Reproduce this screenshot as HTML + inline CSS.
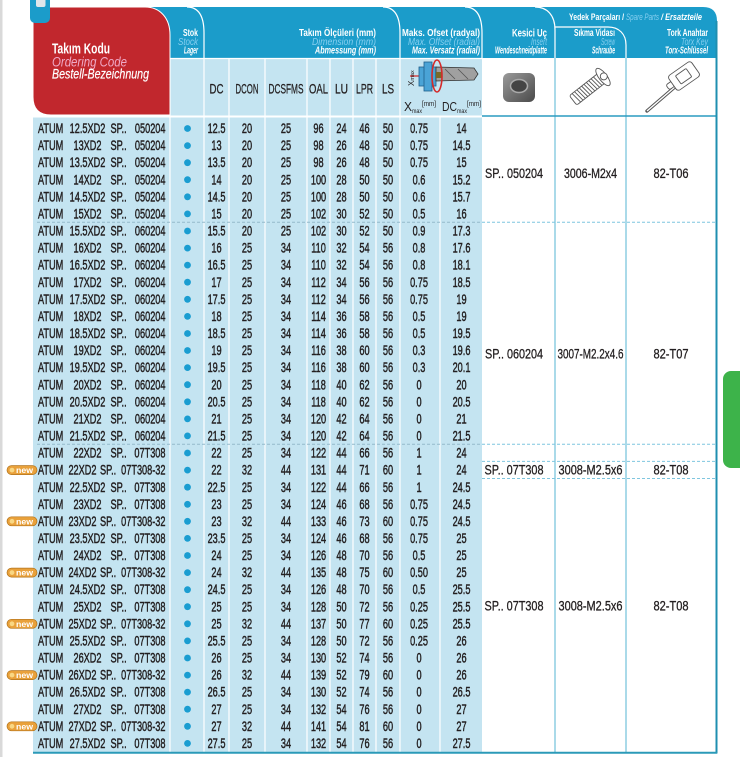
<!DOCTYPE html>
<html><head><meta charset="utf-8"><style>
html,body{margin:0;padding:0;background:#fff}
svg{display:block}
text{font-family:"Liberation Sans",Arial,sans-serif}
</style></head><body>
<svg width="740" height="757" viewBox="0 0 740 757" xmlns="http://www.w3.org/2000/svg">
<defs>
<linearGradient id="ig" x1="0" y1="0" x2="1" y2="1"><stop offset="0" stop-color="#9a9a9a"/><stop offset="1" stop-color="#4a4a4a"/></linearGradient>
</defs>
<rect width="740" height="757" fill="#fff"/>
<rect x="0" y="0" width="2.5" height="757" fill="#d9d9d9"/>
<rect x="723" y="371" width="30" height="97" rx="8" fill="#3db34a"/>

<!-- header blue band -->
<path d="M150,7 H703 Q717,7 717,21 V58 H150 Z" fill="#1b9cca"/>
<g fill="none" stroke="#fff" stroke-width="1.2">
<path d="M187,7 C198,7 204,15 204,33 V58"/>
<path d="M383,7 C394,7 400,15 400,33 V58"/>
<path d="M465,7 C476,7 482,15 482,33 V58"/>
<path d="M535,7 C547,7 555,15 555,30 V58"/>
<path d="M555,27 H608 C619,27 626,34 626,45 V58"/>
</g>
<!-- header row 2 -->
<rect x="170" y="58" width="312" height="58" fill="#c4e4f1"/>
<rect x="482" y="58" width="235" height="58" fill="#fff"/>
<line x1="150" y1="58.5" x2="482" y2="58.5" stroke="#fff" stroke-width="1.2"/>

<!-- data background -->
<rect x="33" y="116" width="449" height="636.5" fill="#c4e4f1"/>
<g stroke="#fff" stroke-width="1.2">
<line x1="170" y1="58" x2="170" y2="752"/>
<line x1="204" y1="58" x2="204" y2="752"/>
<line x1="229" y1="58" x2="229" y2="752"/>
<line x1="265" y1="58" x2="265" y2="752"/>
<line x1="307" y1="58" x2="307" y2="752"/>
<line x1="330" y1="58" x2="330" y2="752"/>
<line x1="353" y1="58" x2="353" y2="752"/>
<line x1="376" y1="58" x2="376" y2="752"/>
<line x1="400" y1="58" x2="400" y2="752"/>
<line x1="440" y1="116" x2="440" y2="752"/>
<line x1="33" y1="116.5" x2="482" y2="116.5" stroke-width="2"/>
</g>
<g stroke="#8dcde2" stroke-width="1.5">
<line x1="555" y1="58" x2="555" y2="752"/>
<line x1="626" y1="58" x2="626" y2="752"/>
</g>
<line x1="482" y1="116" x2="717" y2="116" stroke="#2a9cc0" stroke-width="1.6"/>
<line x1="716.5" y1="21" x2="716.5" y2="753.5" stroke="#1f8fb0" stroke-width="2"/>
<line x1="33" y1="752.8" x2="717" y2="752.8" stroke="#2b9ab8" stroke-width="2"/>

<!-- dashed separators -->
<g stroke-dasharray="3 2" stroke-width="1">
<line x1="37" y1="222.3" x2="482" y2="222.3" stroke="#94b9cb"/>
<line x1="37" y1="444.3" x2="482" y2="444.3" stroke="#94b9cb"/>
<line x1="482" y1="222.3" x2="716" y2="222.3" stroke="#7fc6df"/>
<line x1="482" y1="444.3" x2="716" y2="444.3" stroke="#7fc6df"/>
<line x1="482" y1="461.4" x2="716" y2="461.4" stroke="#7fc6df"/>
<line x1="482" y1="478.5" x2="716" y2="478.5" stroke="#7fc6df"/>
</g>

<!-- red box -->
<path d="M33,7 H145 C160,7 170,18 170,35 V115 H51 Q33,115 33,97 Z" fill="#c1272d" stroke="#fff" stroke-width="1"/>
<!-- icon -->
<rect x="30" y="-5" width="20" height="28" rx="5" fill="#1b9cca"/>
<rect x="36" y="-2" width="9.5" height="9" rx="2" fill="#dfe6ea"/>

<text x="52" y="53.3" font-size="14.5" font-weight="bold" fill="#fff" textLength="58" lengthAdjust="spacingAndGlyphs">Takım Kodu</text>
<text x="52" y="66.5" font-size="14" font-style="italic" fill="#efa9c6" textLength="75" lengthAdjust="spacingAndGlyphs">Ordering Code</text>
<text x="52" y="78.5" font-size="14" font-style="italic" fill="#fff" stroke="#fff" stroke-width="0.2" textLength="97" lengthAdjust="spacingAndGlyphs">Bestell-Bezeichnung</text>

<!-- header row1 texts -->
<g font-size="10" text-anchor="end">
<text x="198" y="36" font-weight="bold" fill="#fff" textLength="15" lengthAdjust="spacingAndGlyphs">Stok</text>
<text x="198" y="45" font-style="italic" fill="#86cff0" textLength="20" lengthAdjust="spacingAndGlyphs">Stock</text>
<text x="198" y="53.5" font-weight="bold" font-style="italic" fill="#fff" textLength="14" lengthAdjust="spacingAndGlyphs">Lager</text>

<text x="376" y="36" font-weight="bold" fill="#fff" textLength="77" lengthAdjust="spacingAndGlyphs">Takım Ölçüleri (mm)</text>
<text x="376" y="45" font-style="italic" fill="#86cff0" textLength="64" lengthAdjust="spacingAndGlyphs">Dimension (mm)</text>
<text x="376" y="53.5" font-weight="bold" font-style="italic" fill="#fff" textLength="61" lengthAdjust="spacingAndGlyphs">Abmessung (mm)</text>

<text x="480" y="36" font-weight="bold" fill="#fff" textLength="78" lengthAdjust="spacingAndGlyphs">Maks. Ofset (radyal)</text>
<text x="480" y="45" font-style="italic" fill="#86cff0" textLength="72" lengthAdjust="spacingAndGlyphs">Max. Offset (radial)</text>
<text x="480" y="53.5" font-weight="bold" font-style="italic" fill="#fff" textLength="68" lengthAdjust="spacingAndGlyphs">Max. Versatz (radial)</text>

<text x="547" y="36.5" font-size="11" font-weight="bold" fill="#fff" textLength="35" lengthAdjust="spacingAndGlyphs">Kesici Uç</text>
<text x="547" y="45" font-style="italic" fill="#86cff0" textLength="16" lengthAdjust="spacingAndGlyphs">Insert</text>
<text x="547" y="53.5" font-weight="bold" font-style="italic" fill="#fff" textLength="52" lengthAdjust="spacingAndGlyphs">Wendeschneidplatte</text>

<text x="615" y="36" font-weight="bold" fill="#fff" textLength="41" lengthAdjust="spacingAndGlyphs">Sıkma Vidası</text>
<text x="615" y="45" font-style="italic" fill="#86cff0" textLength="14" lengthAdjust="spacingAndGlyphs">Screw</text>
<text x="615" y="53.5" font-weight="bold" font-style="italic" fill="#fff" textLength="23" lengthAdjust="spacingAndGlyphs">Schraube</text>

<text x="708" y="36" font-weight="bold" fill="#fff" textLength="41" lengthAdjust="spacingAndGlyphs">Tork Anahtar</text>
<text x="708" y="45" font-style="italic" fill="#86cff0" textLength="27" lengthAdjust="spacingAndGlyphs">Torx Key</text>
<text x="708" y="53.5" font-weight="bold" font-style="italic" fill="#fff" textLength="43" lengthAdjust="spacingAndGlyphs">Torx-Schlüssel</text>
</g>
<g font-size="9.5">
<text x="569" y="20" font-weight="bold" fill="#fff" textLength="55" lengthAdjust="spacingAndGlyphs">Yedek Parçaları /</text>
<text x="626" y="20" font-style="italic" fill="#86cff0" textLength="33" lengthAdjust="spacingAndGlyphs">Spare Parts</text>
<text x="661" y="20" font-weight="bold" font-style="italic" fill="#fff" textLength="41" lengthAdjust="spacingAndGlyphs">/ Ersatzteile</text>
</g>

<!-- header row2 labels -->
<g font-size="14" fill="#231f20" stroke="#231f20" stroke-width="0.3" text-anchor="middle">
<text x="216.5" y="93.3" textLength="14" lengthAdjust="spacingAndGlyphs">DC</text>
<text x="247" y="93.3" textLength="23" lengthAdjust="spacingAndGlyphs">DCON</text>
<text x="286" y="93.3" textLength="35" lengthAdjust="spacingAndGlyphs">DCSFMS</text>
<text x="318.5" y="93.3" textLength="19" lengthAdjust="spacingAndGlyphs">OAL</text>
<text x="341.5" y="93.3" textLength="13" lengthAdjust="spacingAndGlyphs">LU</text>
<text x="364.5" y="93.3" textLength="17" lengthAdjust="spacingAndGlyphs">LPR</text>
<text x="388" y="93.3" textLength="12" lengthAdjust="spacingAndGlyphs">LS</text>
</g>
<!-- Xmax/DCmax labels -->
<g fill="#231f20">
<text x="404" y="111" font-size="13" textLength="8" lengthAdjust="spacingAndGlyphs">X</text>
<text x="412" y="113" font-size="6.5" textLength="10" lengthAdjust="spacingAndGlyphs">max</text>
<text x="422" y="106" font-size="7" textLength="14" lengthAdjust="spacingAndGlyphs">[mm]</text>
<text x="442" y="111" font-size="13" textLength="15" lengthAdjust="spacingAndGlyphs">DC</text>
<text x="457" y="113" font-size="6.5" textLength="10" lengthAdjust="spacingAndGlyphs">max</text>
<text x="467" y="106" font-size="7" textLength="14" lengthAdjust="spacingAndGlyphs">[mm]</text>
</g>
<!-- diagram -->
<g>
<line x1="410" y1="76" x2="436" y2="76" stroke="#d42a2a" stroke-width="1.2"/>
<rect x="419" y="67" width="17" height="19" fill="#4aa3d6" stroke="#1d5f8c" stroke-width=".8"/>
<rect x="424" y="62" width="8" height="29" fill="#4aa3d6" stroke="#1d5f8c" stroke-width=".8"/>
<path d="M436,67 L474,68 L478,74 L474,80 L436,81 Z" fill="#a0a0a0" stroke="#333" stroke-width=".8"/>
<path d="M445,69 L455,79 M458,69 L468,79" stroke="#555" stroke-width=".8" fill="none"/>
<rect x="436" y="72" width="6" height="6" fill="#7a6a2a"/>
<ellipse cx="437" cy="76" rx="5" ry="16" fill="none" stroke="#d42a2a" stroke-width="1.6"/>
<text transform="translate(414,86) rotate(-90)" font-size="8" fill="#231f20">X<tspan font-size="5.5">max</tspan></text>
</g>
<!-- insert image -->
<rect x="503" y="73" width="32" height="29" rx="6" fill="url(#ig)"/>
<ellipse cx="519" cy="86" rx="8.5" ry="6.5" fill="#444" stroke="#aaa" stroke-width="1.5"/>
<!-- screw -->
<g transform="translate(603,77) rotate(142)" fill="#fff" stroke="#555" stroke-width="0.9">
<rect x="2" y="-6" width="36" height="12" rx="2"/>
<path d="M6,-6 L7.5,6 M9,-6 L10.5,6 M12,-6 L13.5,6 M15,-6 L16.5,6 M18,-6 L19.5,6 M21,-6 L22.5,6 M24,-6 L25.5,6 M27,-6 L28.5,6 M30,-6 L31.5,6 M33,-6 L34.5,6" fill="none"/>
<ellipse cx="0" cy="0" rx="4" ry="10.5"/>
<circle cx="-1" cy="0" r="3.5"/>
</g>
<!-- key -->
<line x1="676" y1="86" x2="647" y2="111" stroke="#555" stroke-width="3.4" stroke-linecap="round"/>
<line x1="676" y1="86" x2="647" y2="111" stroke="#fff" stroke-width="1.4"/>
<g transform="translate(684,76) rotate(-35)" fill="#fff" stroke="#555" stroke-width="0.9">
<rect x="-20" y="-3" width="7" height="6" rx="2"/>
<rect x="-14" y="-9" width="28" height="18" rx="3"/>
<rect x="-7" y="-5" width="13" height="10" rx="1"/>
</g>

<!-- stock dots -->
<g fill="#1a9dd1">
<circle cx="187.5" cy="128.5" r="3.4"/><circle cx="187.5" cy="145.6" r="3.4"/><circle cx="187.5" cy="162.7" r="3.4"/><circle cx="187.5" cy="179.7" r="3.4"/><circle cx="187.5" cy="196.8" r="3.4"/><circle cx="187.5" cy="213.9" r="3.4"/><circle cx="187.5" cy="231.0" r="3.4"/><circle cx="187.5" cy="248.1" r="3.4"/><circle cx="187.5" cy="265.1" r="3.4"/><circle cx="187.5" cy="282.2" r="3.4"/><circle cx="187.5" cy="299.3" r="3.4"/><circle cx="187.5" cy="316.4" r="3.4"/><circle cx="187.5" cy="333.5" r="3.4"/><circle cx="187.5" cy="350.5" r="3.4"/><circle cx="187.5" cy="367.6" r="3.4"/><circle cx="187.5" cy="384.7" r="3.4"/><circle cx="187.5" cy="401.8" r="3.4"/><circle cx="187.5" cy="418.9" r="3.4"/><circle cx="187.5" cy="435.9" r="3.4"/><circle cx="187.5" cy="453.0" r="3.4"/><circle cx="187.5" cy="470.1" r="3.4"/><circle cx="187.5" cy="487.2" r="3.4"/><circle cx="187.5" cy="504.3" r="3.4"/><circle cx="187.5" cy="521.3" r="3.4"/><circle cx="187.5" cy="538.4" r="3.4"/><circle cx="187.5" cy="555.5" r="3.4"/><circle cx="187.5" cy="572.6" r="3.4"/><circle cx="187.5" cy="589.7" r="3.4"/><circle cx="187.5" cy="606.7" r="3.4"/><circle cx="187.5" cy="623.8" r="3.4"/><circle cx="187.5" cy="640.9" r="3.4"/><circle cx="187.5" cy="658.0" r="3.4"/><circle cx="187.5" cy="675.1" r="3.4"/><circle cx="187.5" cy="692.1" r="3.4"/><circle cx="187.5" cy="709.2" r="3.4"/><circle cx="187.5" cy="726.3" r="3.4"/><circle cx="187.5" cy="743.4" r="3.4"/>
</g>

<!-- new badges -->
<g font-size="8.5" font-weight="bold">
<g transform="translate(0,470.1)"><rect x="7" y="-4.5" width="30" height="9" rx="4.5" fill="#e9a13b" stroke="#b3741c" stroke-width=".7"/><circle cx="12" cy="0" r="2.4" fill="#f9d783"/><text x="16" y="3" fill="#fff" textLength="17" lengthAdjust="spacingAndGlyphs">new</text></g>
<g transform="translate(0,521.3)"><rect x="7" y="-4.5" width="30" height="9" rx="4.5" fill="#e9a13b" stroke="#b3741c" stroke-width=".7"/><circle cx="12" cy="0" r="2.4" fill="#f9d783"/><text x="16" y="3" fill="#fff" textLength="17" lengthAdjust="spacingAndGlyphs">new</text></g>
<g transform="translate(0,572.6)"><rect x="7" y="-4.5" width="30" height="9" rx="4.5" fill="#e9a13b" stroke="#b3741c" stroke-width=".7"/><circle cx="12" cy="0" r="2.4" fill="#f9d783"/><text x="16" y="3" fill="#fff" textLength="17" lengthAdjust="spacingAndGlyphs">new</text></g>
<g transform="translate(0,623.8)"><rect x="7" y="-4.5" width="30" height="9" rx="4.5" fill="#e9a13b" stroke="#b3741c" stroke-width=".7"/><circle cx="12" cy="0" r="2.4" fill="#f9d783"/><text x="16" y="3" fill="#fff" textLength="17" lengthAdjust="spacingAndGlyphs">new</text></g>
<g transform="translate(0,675.1)"><rect x="7" y="-4.5" width="30" height="9" rx="4.5" fill="#e9a13b" stroke="#b3741c" stroke-width=".7"/><circle cx="12" cy="0" r="2.4" fill="#f9d783"/><text x="16" y="3" fill="#fff" textLength="17" lengthAdjust="spacingAndGlyphs">new</text></g>
<g transform="translate(0,726.3)"><rect x="7" y="-4.5" width="30" height="9" rx="4.5" fill="#e9a13b" stroke="#b3741c" stroke-width=".7"/><circle cx="12" cy="0" r="2.4" fill="#f9d783"/><text x="16" y="3" fill="#fff" textLength="17" lengthAdjust="spacingAndGlyphs">new</text></g>
</g>

<!-- data text -->
<g font-size="13.5" fill="#231f20" stroke="#231f20" stroke-width="0.45">
<!-- ATUM -->
<g transform="translate(38,0) scale(0.68,1)">
<text y="133.1"><tspan x="0">ATUM</tspan><tspan x="0" dy="17.08">ATUM</tspan><tspan x="0" dy="17.08">ATUM</tspan><tspan x="0" dy="17.08">ATUM</tspan><tspan x="0" dy="17.08">ATUM</tspan><tspan x="0" dy="17.08">ATUM</tspan><tspan x="0" dy="17.08">ATUM</tspan><tspan x="0" dy="17.08">ATUM</tspan><tspan x="0" dy="17.08">ATUM</tspan><tspan x="0" dy="17.08">ATUM</tspan><tspan x="0" dy="17.08">ATUM</tspan><tspan x="0" dy="17.08">ATUM</tspan><tspan x="0" dy="17.08">ATUM</tspan><tspan x="0" dy="17.08">ATUM</tspan><tspan x="0" dy="17.08">ATUM</tspan><tspan x="0" dy="17.08">ATUM</tspan><tspan x="0" dy="17.08">ATUM</tspan><tspan x="0" dy="17.08">ATUM</tspan><tspan x="0" dy="17.08">ATUM</tspan><tspan x="0" dy="17.08">ATUM</tspan><tspan x="0" dy="17.08">ATUM</tspan><tspan x="0" dy="17.08">ATUM</tspan><tspan x="0" dy="17.08">ATUM</tspan><tspan x="0" dy="17.08">ATUM</tspan><tspan x="0" dy="17.08">ATUM</tspan><tspan x="0" dy="17.08">ATUM</tspan><tspan x="0" dy="17.08">ATUM</tspan><tspan x="0" dy="17.08">ATUM</tspan><tspan x="0" dy="17.08">ATUM</tspan><tspan x="0" dy="17.08">ATUM</tspan><tspan x="0" dy="17.08">ATUM</tspan><tspan x="0" dy="17.08">ATUM</tspan><tspan x="0" dy="17.08">ATUM</tspan><tspan x="0" dy="17.08">ATUM</tspan><tspan x="0" dy="17.08">ATUM</tspan><tspan x="0" dy="17.08">ATUM</tspan><tspan x="0" dy="17.08">ATUM</tspan></text>
</g>
<!-- size -->
<g transform="translate(87.5,0) scale(0.68,1)" text-anchor="middle">
<text y="133.1"><tspan x="0">12.5XD2</tspan><tspan x="0" dy="17.08">13XD2</tspan><tspan x="0" dy="17.08">13.5XD2</tspan><tspan x="0" dy="17.08">14XD2</tspan><tspan x="0" dy="17.08">14.5XD2</tspan><tspan x="0" dy="17.08">15XD2</tspan><tspan x="0" dy="17.08">15.5XD2</tspan><tspan x="0" dy="17.08">16XD2</tspan><tspan x="0" dy="17.08">16.5XD2</tspan><tspan x="0" dy="17.08">17XD2</tspan><tspan x="0" dy="17.08">17.5XD2</tspan><tspan x="0" dy="17.08">18XD2</tspan><tspan x="0" dy="17.08">18.5XD2</tspan><tspan x="0" dy="17.08">19XD2</tspan><tspan x="0" dy="17.08">19.5XD2</tspan><tspan x="0" dy="17.08">20XD2</tspan><tspan x="0" dy="17.08">20.5XD2</tspan><tspan x="0" dy="17.08">21XD2</tspan><tspan x="0" dy="17.08">21.5XD2</tspan><tspan x="0" dy="17.08">22XD2</tspan><tspan x="-7.4" dy="17.08">22XD2</tspan><tspan x="0" dy="17.08">22.5XD2</tspan><tspan x="0" dy="17.08">23XD2</tspan><tspan x="-7.4" dy="17.08">23XD2</tspan><tspan x="0" dy="17.08">23.5XD2</tspan><tspan x="0" dy="17.08">24XD2</tspan><tspan x="-7.4" dy="17.08">24XD2</tspan><tspan x="0" dy="17.08">24.5XD2</tspan><tspan x="0" dy="17.08">25XD2</tspan><tspan x="-7.4" dy="17.08">25XD2</tspan><tspan x="0" dy="17.08">25.5XD2</tspan><tspan x="0" dy="17.08">26XD2</tspan><tspan x="-7.4" dy="17.08">26XD2</tspan><tspan x="0" dy="17.08">26.5XD2</tspan><tspan x="0" dy="17.08">27XD2</tspan><tspan x="-7.4" dy="17.08">27XD2</tspan><tspan x="0" dy="17.08">27.5XD2</tspan></text>
</g>
<!-- SP.. -->
<g transform="translate(110.5,0) scale(0.68,1)">
<text y="133.1"><tspan x="0">SP..</tspan><tspan x="0" dy="17.08">SP..</tspan><tspan x="0" dy="17.08">SP..</tspan><tspan x="0" dy="17.08">SP..</tspan><tspan x="0" dy="17.08">SP..</tspan><tspan x="0" dy="17.08">SP..</tspan><tspan x="0" dy="17.08">SP..</tspan><tspan x="0" dy="17.08">SP..</tspan><tspan x="0" dy="17.08">SP..</tspan><tspan x="0" dy="17.08">SP..</tspan><tspan x="0" dy="17.08">SP..</tspan><tspan x="0" dy="17.08">SP..</tspan><tspan x="0" dy="17.08">SP..</tspan><tspan x="0" dy="17.08">SP..</tspan><tspan x="0" dy="17.08">SP..</tspan><tspan x="0" dy="17.08">SP..</tspan><tspan x="0" dy="17.08">SP..</tspan><tspan x="0" dy="17.08">SP..</tspan><tspan x="0" dy="17.08">SP..</tspan><tspan x="0" dy="17.08">SP..</tspan><tspan x="-15.4" dy="17.08">SP..</tspan><tspan x="0" dy="17.08">SP..</tspan><tspan x="0" dy="17.08">SP..</tspan><tspan x="-15.4" dy="17.08">SP..</tspan><tspan x="0" dy="17.08">SP..</tspan><tspan x="0" dy="17.08">SP..</tspan><tspan x="-15.4" dy="17.08">SP..</tspan><tspan x="0" dy="17.08">SP..</tspan><tspan x="0" dy="17.08">SP..</tspan><tspan x="-15.4" dy="17.08">SP..</tspan><tspan x="0" dy="17.08">SP..</tspan><tspan x="0" dy="17.08">SP..</tspan><tspan x="-15.4" dy="17.08">SP..</tspan><tspan x="0" dy="17.08">SP..</tspan><tspan x="0" dy="17.08">SP..</tspan><tspan x="-15.4" dy="17.08">SP..</tspan><tspan x="0" dy="17.08">SP..</tspan></text>
</g>
<!-- number -->
<g transform="translate(165.5,0) scale(0.68,1)" text-anchor="end">
<text y="133.1"><tspan x="0">050204</tspan><tspan x="0" dy="17.08">050204</tspan><tspan x="0" dy="17.08">050204</tspan><tspan x="0" dy="17.08">050204</tspan><tspan x="0" dy="17.08">050204</tspan><tspan x="0" dy="17.08">050204</tspan><tspan x="0" dy="17.08">060204</tspan><tspan x="0" dy="17.08">060204</tspan><tspan x="0" dy="17.08">060204</tspan><tspan x="0" dy="17.08">060204</tspan><tspan x="0" dy="17.08">060204</tspan><tspan x="0" dy="17.08">060204</tspan><tspan x="0" dy="17.08">060204</tspan><tspan x="0" dy="17.08">060204</tspan><tspan x="0" dy="17.08">060204</tspan><tspan x="0" dy="17.08">060204</tspan><tspan x="0" dy="17.08">060204</tspan><tspan x="0" dy="17.08">060204</tspan><tspan x="0" dy="17.08">060204</tspan><tspan x="0" dy="17.08">07T308</tspan><tspan x="0" dy="17.08">07T308-32</tspan><tspan x="0" dy="17.08">07T308</tspan><tspan x="0" dy="17.08">07T308</tspan><tspan x="0" dy="17.08">07T308-32</tspan><tspan x="0" dy="17.08">07T308</tspan><tspan x="0" dy="17.08">07T308</tspan><tspan x="0" dy="17.08">07T308-32</tspan><tspan x="0" dy="17.08">07T308</tspan><tspan x="0" dy="17.08">07T308</tspan><tspan x="0" dy="17.08">07T308-32</tspan><tspan x="0" dy="17.08">07T308</tspan><tspan x="0" dy="17.08">07T308</tspan><tspan x="0" dy="17.08">07T308-32</tspan><tspan x="0" dy="17.08">07T308</tspan><tspan x="0" dy="17.08">07T308</tspan><tspan x="0" dy="17.08">07T308-32</tspan><tspan x="0" dy="17.08">07T308</tspan></text>
</g>

<!-- DC -->
<g transform="translate(216.5,0) scale(0.68,1)" text-anchor="middle">
<text y="133.1"><tspan x="0">12.5</tspan><tspan x="0" dy="17.08">13</tspan><tspan x="0" dy="17.08">13.5</tspan><tspan x="0" dy="17.08">14</tspan><tspan x="0" dy="17.08">14.5</tspan><tspan x="0" dy="17.08">15</tspan><tspan x="0" dy="17.08">15.5</tspan><tspan x="0" dy="17.08">16</tspan><tspan x="0" dy="17.08">16.5</tspan><tspan x="0" dy="17.08">17</tspan><tspan x="0" dy="17.08">17.5</tspan><tspan x="0" dy="17.08">18</tspan><tspan x="0" dy="17.08">18.5</tspan><tspan x="0" dy="17.08">19</tspan><tspan x="0" dy="17.08">19.5</tspan><tspan x="0" dy="17.08">20</tspan><tspan x="0" dy="17.08">20.5</tspan><tspan x="0" dy="17.08">21</tspan><tspan x="0" dy="17.08">21.5</tspan><tspan x="0" dy="17.08">22</tspan><tspan x="0" dy="17.08">22</tspan><tspan x="0" dy="17.08">22.5</tspan><tspan x="0" dy="17.08">23</tspan><tspan x="0" dy="17.08">23</tspan><tspan x="0" dy="17.08">23.5</tspan><tspan x="0" dy="17.08">24</tspan><tspan x="0" dy="17.08">24</tspan><tspan x="0" dy="17.08">24.5</tspan><tspan x="0" dy="17.08">25</tspan><tspan x="0" dy="17.08">25</tspan><tspan x="0" dy="17.08">25.5</tspan><tspan x="0" dy="17.08">26</tspan><tspan x="0" dy="17.08">26</tspan><tspan x="0" dy="17.08">26.5</tspan><tspan x="0" dy="17.08">27</tspan><tspan x="0" dy="17.08">27</tspan><tspan x="0" dy="17.08">27.5</tspan></text>
</g>
<!-- DCON -->
<g transform="translate(247,0) scale(0.68,1)" text-anchor="middle">
<text y="133.1"><tspan x="0">20</tspan><tspan x="0" dy="17.08">20</tspan><tspan x="0" dy="17.08">20</tspan><tspan x="0" dy="17.08">20</tspan><tspan x="0" dy="17.08">20</tspan><tspan x="0" dy="17.08">20</tspan><tspan x="0" dy="17.08">20</tspan><tspan x="0" dy="17.08">25</tspan><tspan x="0" dy="17.08">25</tspan><tspan x="0" dy="17.08">25</tspan><tspan x="0" dy="17.08">25</tspan><tspan x="0" dy="17.08">25</tspan><tspan x="0" dy="17.08">25</tspan><tspan x="0" dy="17.08">25</tspan><tspan x="0" dy="17.08">25</tspan><tspan x="0" dy="17.08">25</tspan><tspan x="0" dy="17.08">25</tspan><tspan x="0" dy="17.08">25</tspan><tspan x="0" dy="17.08">25</tspan><tspan x="0" dy="17.08">25</tspan><tspan x="0" dy="17.08">32</tspan><tspan x="0" dy="17.08">25</tspan><tspan x="0" dy="17.08">25</tspan><tspan x="0" dy="17.08">32</tspan><tspan x="0" dy="17.08">25</tspan><tspan x="0" dy="17.08">25</tspan><tspan x="0" dy="17.08">32</tspan><tspan x="0" dy="17.08">25</tspan><tspan x="0" dy="17.08">25</tspan><tspan x="0" dy="17.08">32</tspan><tspan x="0" dy="17.08">25</tspan><tspan x="0" dy="17.08">25</tspan><tspan x="0" dy="17.08">32</tspan><tspan x="0" dy="17.08">25</tspan><tspan x="0" dy="17.08">25</tspan><tspan x="0" dy="17.08">32</tspan><tspan x="0" dy="17.08">25</tspan></text>
</g>
<!-- DCSFMS -->
<g transform="translate(286,0) scale(0.68,1)" text-anchor="middle">
<text y="133.1"><tspan x="0">25</tspan><tspan x="0" dy="17.08">25</tspan><tspan x="0" dy="17.08">25</tspan><tspan x="0" dy="17.08">25</tspan><tspan x="0" dy="17.08">25</tspan><tspan x="0" dy="17.08">25</tspan><tspan x="0" dy="17.08">25</tspan><tspan x="0" dy="17.08">34</tspan><tspan x="0" dy="17.08">34</tspan><tspan x="0" dy="17.08">34</tspan><tspan x="0" dy="17.08">34</tspan><tspan x="0" dy="17.08">34</tspan><tspan x="0" dy="17.08">34</tspan><tspan x="0" dy="17.08">34</tspan><tspan x="0" dy="17.08">34</tspan><tspan x="0" dy="17.08">34</tspan><tspan x="0" dy="17.08">34</tspan><tspan x="0" dy="17.08">34</tspan><tspan x="0" dy="17.08">34</tspan><tspan x="0" dy="17.08">34</tspan><tspan x="0" dy="17.08">44</tspan><tspan x="0" dy="17.08">34</tspan><tspan x="0" dy="17.08">34</tspan><tspan x="0" dy="17.08">44</tspan><tspan x="0" dy="17.08">34</tspan><tspan x="0" dy="17.08">34</tspan><tspan x="0" dy="17.08">44</tspan><tspan x="0" dy="17.08">34</tspan><tspan x="0" dy="17.08">34</tspan><tspan x="0" dy="17.08">44</tspan><tspan x="0" dy="17.08">34</tspan><tspan x="0" dy="17.08">34</tspan><tspan x="0" dy="17.08">44</tspan><tspan x="0" dy="17.08">34</tspan><tspan x="0" dy="17.08">34</tspan><tspan x="0" dy="17.08">44</tspan><tspan x="0" dy="17.08">34</tspan></text>
</g>
<!-- OAL -->
<g transform="translate(318.5,0) scale(0.68,1)" text-anchor="middle">
<text y="133.1"><tspan x="0">96</tspan><tspan x="0" dy="17.08">98</tspan><tspan x="0" dy="17.08">98</tspan><tspan x="0" dy="17.08">100</tspan><tspan x="0" dy="17.08">100</tspan><tspan x="0" dy="17.08">102</tspan><tspan x="0" dy="17.08">102</tspan><tspan x="0" dy="17.08">110</tspan><tspan x="0" dy="17.08">110</tspan><tspan x="0" dy="17.08">112</tspan><tspan x="0" dy="17.08">112</tspan><tspan x="0" dy="17.08">114</tspan><tspan x="0" dy="17.08">114</tspan><tspan x="0" dy="17.08">116</tspan><tspan x="0" dy="17.08">116</tspan><tspan x="0" dy="17.08">118</tspan><tspan x="0" dy="17.08">118</tspan><tspan x="0" dy="17.08">120</tspan><tspan x="0" dy="17.08">120</tspan><tspan x="0" dy="17.08">122</tspan><tspan x="0" dy="17.08">131</tspan><tspan x="0" dy="17.08">122</tspan><tspan x="0" dy="17.08">124</tspan><tspan x="0" dy="17.08">133</tspan><tspan x="0" dy="17.08">124</tspan><tspan x="0" dy="17.08">126</tspan><tspan x="0" dy="17.08">135</tspan><tspan x="0" dy="17.08">126</tspan><tspan x="0" dy="17.08">128</tspan><tspan x="0" dy="17.08">137</tspan><tspan x="0" dy="17.08">128</tspan><tspan x="0" dy="17.08">130</tspan><tspan x="0" dy="17.08">139</tspan><tspan x="0" dy="17.08">130</tspan><tspan x="0" dy="17.08">132</tspan><tspan x="0" dy="17.08">141</tspan><tspan x="0" dy="17.08">132</tspan></text>
</g>
<!-- LU -->
<g transform="translate(341.5,0) scale(0.68,1)" text-anchor="middle">
<text y="133.1"><tspan x="0">24</tspan><tspan x="0" dy="17.08">26</tspan><tspan x="0" dy="17.08">26</tspan><tspan x="0" dy="17.08">28</tspan><tspan x="0" dy="17.08">28</tspan><tspan x="0" dy="17.08">30</tspan><tspan x="0" dy="17.08">30</tspan><tspan x="0" dy="17.08">32</tspan><tspan x="0" dy="17.08">32</tspan><tspan x="0" dy="17.08">34</tspan><tspan x="0" dy="17.08">34</tspan><tspan x="0" dy="17.08">36</tspan><tspan x="0" dy="17.08">36</tspan><tspan x="0" dy="17.08">38</tspan><tspan x="0" dy="17.08">38</tspan><tspan x="0" dy="17.08">40</tspan><tspan x="0" dy="17.08">40</tspan><tspan x="0" dy="17.08">42</tspan><tspan x="0" dy="17.08">42</tspan><tspan x="0" dy="17.08">44</tspan><tspan x="0" dy="17.08">44</tspan><tspan x="0" dy="17.08">44</tspan><tspan x="0" dy="17.08">46</tspan><tspan x="0" dy="17.08">46</tspan><tspan x="0" dy="17.08">46</tspan><tspan x="0" dy="17.08">48</tspan><tspan x="0" dy="17.08">48</tspan><tspan x="0" dy="17.08">48</tspan><tspan x="0" dy="17.08">50</tspan><tspan x="0" dy="17.08">50</tspan><tspan x="0" dy="17.08">50</tspan><tspan x="0" dy="17.08">52</tspan><tspan x="0" dy="17.08">52</tspan><tspan x="0" dy="17.08">52</tspan><tspan x="0" dy="17.08">54</tspan><tspan x="0" dy="17.08">54</tspan><tspan x="0" dy="17.08">54</tspan></text>
</g>
<!-- LPR -->
<g transform="translate(364.5,0) scale(0.68,1)" text-anchor="middle">
<text y="133.1"><tspan x="0">46</tspan><tspan x="0" dy="17.08">48</tspan><tspan x="0" dy="17.08">48</tspan><tspan x="0" dy="17.08">50</tspan><tspan x="0" dy="17.08">50</tspan><tspan x="0" dy="17.08">52</tspan><tspan x="0" dy="17.08">52</tspan><tspan x="0" dy="17.08">54</tspan><tspan x="0" dy="17.08">54</tspan><tspan x="0" dy="17.08">56</tspan><tspan x="0" dy="17.08">56</tspan><tspan x="0" dy="17.08">58</tspan><tspan x="0" dy="17.08">58</tspan><tspan x="0" dy="17.08">60</tspan><tspan x="0" dy="17.08">60</tspan><tspan x="0" dy="17.08">62</tspan><tspan x="0" dy="17.08">62</tspan><tspan x="0" dy="17.08">64</tspan><tspan x="0" dy="17.08">64</tspan><tspan x="0" dy="17.08">66</tspan><tspan x="0" dy="17.08">71</tspan><tspan x="0" dy="17.08">66</tspan><tspan x="0" dy="17.08">68</tspan><tspan x="0" dy="17.08">73</tspan><tspan x="0" dy="17.08">68</tspan><tspan x="0" dy="17.08">70</tspan><tspan x="0" dy="17.08">75</tspan><tspan x="0" dy="17.08">70</tspan><tspan x="0" dy="17.08">72</tspan><tspan x="0" dy="17.08">77</tspan><tspan x="0" dy="17.08">72</tspan><tspan x="0" dy="17.08">74</tspan><tspan x="0" dy="17.08">79</tspan><tspan x="0" dy="17.08">74</tspan><tspan x="0" dy="17.08">76</tspan><tspan x="0" dy="17.08">81</tspan><tspan x="0" dy="17.08">76</tspan></text>
</g>
<!-- LS -->
<g transform="translate(388,0) scale(0.68,1)" text-anchor="middle">
<text y="133.1"><tspan x="0">50</tspan><tspan x="0" dy="17.08">50</tspan><tspan x="0" dy="17.08">50</tspan><tspan x="0" dy="17.08">50</tspan><tspan x="0" dy="17.08">50</tspan><tspan x="0" dy="17.08">50</tspan><tspan x="0" dy="17.08">50</tspan><tspan x="0" dy="17.08">56</tspan><tspan x="0" dy="17.08">56</tspan><tspan x="0" dy="17.08">56</tspan><tspan x="0" dy="17.08">56</tspan><tspan x="0" dy="17.08">56</tspan><tspan x="0" dy="17.08">56</tspan><tspan x="0" dy="17.08">56</tspan><tspan x="0" dy="17.08">56</tspan><tspan x="0" dy="17.08">56</tspan><tspan x="0" dy="17.08">56</tspan><tspan x="0" dy="17.08">56</tspan><tspan x="0" dy="17.08">56</tspan><tspan x="0" dy="17.08">56</tspan><tspan x="0" dy="17.08">60</tspan><tspan x="0" dy="17.08">56</tspan><tspan x="0" dy="17.08">56</tspan><tspan x="0" dy="17.08">60</tspan><tspan x="0" dy="17.08">56</tspan><tspan x="0" dy="17.08">56</tspan><tspan x="0" dy="17.08">60</tspan><tspan x="0" dy="17.08">56</tspan><tspan x="0" dy="17.08">56</tspan><tspan x="0" dy="17.08">60</tspan><tspan x="0" dy="17.08">56</tspan><tspan x="0" dy="17.08">56</tspan><tspan x="0" dy="17.08">60</tspan><tspan x="0" dy="17.08">56</tspan><tspan x="0" dy="17.08">56</tspan><tspan x="0" dy="17.08">60</tspan><tspan x="0" dy="17.08">56</tspan></text>
</g>
<!-- Xmax -->
<g transform="translate(419,0) scale(0.68,1)" text-anchor="middle">
<text y="133.1"><tspan x="0">0.75</tspan><tspan x="0" dy="17.08">0.75</tspan><tspan x="0" dy="17.08">0.75</tspan><tspan x="0" dy="17.08">0.6</tspan><tspan x="0" dy="17.08">0.6</tspan><tspan x="0" dy="17.08">0.5</tspan><tspan x="0" dy="17.08">0.9</tspan><tspan x="0" dy="17.08">0.8</tspan><tspan x="0" dy="17.08">0.8</tspan><tspan x="0" dy="17.08">0.75</tspan><tspan x="0" dy="17.08">0.75</tspan><tspan x="0" dy="17.08">0.5</tspan><tspan x="0" dy="17.08">0.5</tspan><tspan x="0" dy="17.08">0.3</tspan><tspan x="0" dy="17.08">0.3</tspan><tspan x="0" dy="17.08">0</tspan><tspan x="0" dy="17.08">0</tspan><tspan x="0" dy="17.08">0</tspan><tspan x="0" dy="17.08">0</tspan><tspan x="0" dy="17.08">1</tspan><tspan x="0" dy="17.08">1</tspan><tspan x="0" dy="17.08">1</tspan><tspan x="0" dy="17.08">0.75</tspan><tspan x="0" dy="17.08">0.75</tspan><tspan x="0" dy="17.08">0.75</tspan><tspan x="0" dy="17.08">0.5</tspan><tspan x="0" dy="17.08">0.50</tspan><tspan x="0" dy="17.08">0.5</tspan><tspan x="0" dy="17.08">0.25</tspan><tspan x="0" dy="17.08">0.25</tspan><tspan x="0" dy="17.08">0.25</tspan><tspan x="0" dy="17.08">0</tspan><tspan x="0" dy="17.08">0</tspan><tspan x="0" dy="17.08">0</tspan><tspan x="0" dy="17.08">0</tspan><tspan x="0" dy="17.08">0</tspan><tspan x="0" dy="17.08">0</tspan></text>
</g>
<!-- DCmax -->
<g transform="translate(461.5,0) scale(0.68,1)" text-anchor="middle">
<text y="133.1"><tspan x="0">14</tspan><tspan x="0" dy="17.08">14.5</tspan><tspan x="0" dy="17.08">15</tspan><tspan x="0" dy="17.08">15.2</tspan><tspan x="0" dy="17.08">15.7</tspan><tspan x="0" dy="17.08">16</tspan><tspan x="0" dy="17.08">17.3</tspan><tspan x="0" dy="17.08">17.6</tspan><tspan x="0" dy="17.08">18.1</tspan><tspan x="0" dy="17.08">18.5</tspan><tspan x="0" dy="17.08">19</tspan><tspan x="0" dy="17.08">19</tspan><tspan x="0" dy="17.08">19.5</tspan><tspan x="0" dy="17.08">19.6</tspan><tspan x="0" dy="17.08">20.1</tspan><tspan x="0" dy="17.08">20</tspan><tspan x="0" dy="17.08">20.5</tspan><tspan x="0" dy="17.08">21</tspan><tspan x="0" dy="17.08">21.5</tspan><tspan x="0" dy="17.08">24</tspan><tspan x="0" dy="17.08">24</tspan><tspan x="0" dy="17.08">24.5</tspan><tspan x="0" dy="17.08">24.5</tspan><tspan x="0" dy="17.08">24.5</tspan><tspan x="0" dy="17.08">25</tspan><tspan x="0" dy="17.08">25</tspan><tspan x="0" dy="17.08">25</tspan><tspan x="0" dy="17.08">25.5</tspan><tspan x="0" dy="17.08">25.5</tspan><tspan x="0" dy="17.08">25.5</tspan><tspan x="0" dy="17.08">26</tspan><tspan x="0" dy="17.08">26</tspan><tspan x="0" dy="17.08">26</tspan><tspan x="0" dy="17.08">26.5</tspan><tspan x="0" dy="17.08">27</tspan><tspan x="0" dy="17.08">27</tspan><tspan x="0" dy="17.08">27.5</tspan></text>
</g>

<!-- right side texts -->
<g text-anchor="middle" stroke-width="0.3">
<text x="514" y="178" textLength="58" lengthAdjust="spacingAndGlyphs">SP.. 050204</text>
<text x="590.5" y="178" textLength="53" lengthAdjust="spacingAndGlyphs">3006-M2x4</text>
<text x="671" y="178" textLength="35" lengthAdjust="spacingAndGlyphs">82-T06</text>
<text x="514" y="358.5" textLength="58" lengthAdjust="spacingAndGlyphs">SP.. 060204</text>
<text x="590.5" y="358.5" textLength="66" lengthAdjust="spacingAndGlyphs">3007-M2.2x4.6</text>
<text x="671" y="358.5" textLength="35" lengthAdjust="spacingAndGlyphs">82-T07</text>
<text x="514" y="474.7" textLength="59" lengthAdjust="spacingAndGlyphs">SP.. 07T308</text>
<text x="590.5" y="474.7" textLength="64" lengthAdjust="spacingAndGlyphs">3008-M2.5x6</text>
<text x="671" y="474.7" textLength="35" lengthAdjust="spacingAndGlyphs">82-T08</text>
<text x="514" y="610.5" textLength="59" lengthAdjust="spacingAndGlyphs">SP.. 07T308</text>
<text x="590.5" y="610.5" textLength="64" lengthAdjust="spacingAndGlyphs">3008-M2.5x6</text>
<text x="671" y="610.5" textLength="35" lengthAdjust="spacingAndGlyphs">82-T08</text>
</g>
</g>
</svg>
</body></html>
